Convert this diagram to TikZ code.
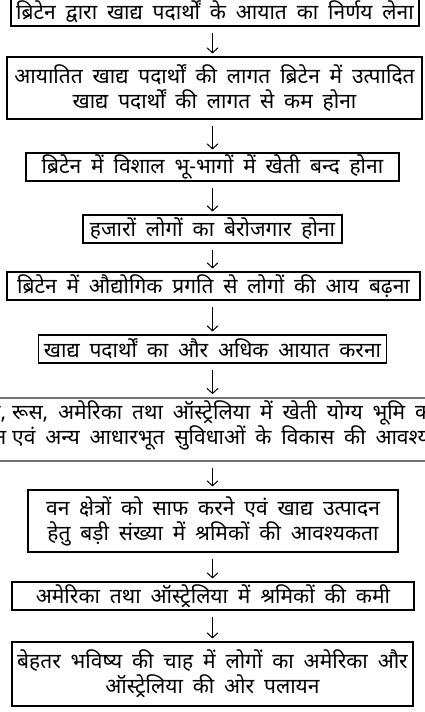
\documentclass[tikz,border=0pt]{standalone}
\usepackage{fontspec}
\newfontfamily\deva[Script=Devanagari,WordSpace=1.8]{Noto Sans}
\usetikzlibrary{arrows.meta,calc}
\begin{document}
\begin{tikzpicture}[x=1pt,y=-1pt,
  txt/.style={font=\deva\fontsize{21}{25}\selectfont},
  box/.style={draw=black, line width=1.1pt, inner sep=0pt, align=center, txt},
  graybox/.style={draw=black!55, line width=1.8pt, inner sep=0pt},
  arr/.style={-{Straight Barb[length=5pt,width=11pt,line width=1pt]}, line width=1pt}]
\useasboundingbox (0,0) rectangle (425,712);
\clip (0,0) rectangle (425,712);
\coordinate (ax) at (212.5,0);
\node[box, minimum width=408pt, minimum height=28pt] (b1) at (215,12) {ब्रिटेन द्वारा खाद्य पदार्थों के आयात का निर्णय लेना};
\node[box, minimum width=415pt, minimum height=62pt] (b2) at (214.5,88) {आयातित खाद्य पदार्थों की लागत ब्रिटेन में उत्पादित\\खाद्य पदार्थों की लागत से कम होना};
\node[box, minimum width=373pt, minimum height=28pt] (b3) at (212.5,167) {ब्रिटेन में विशाल भू-भागों में खेती बन्द होना};
\node[box, minimum width=259pt, minimum height=28pt] (b4) at (212.5,229) {हजारों लोगों का बेरोजगार होना};
\node[box, minimum width=413pt, minimum height=28pt] (b5) at (213.5,286) {ब्रिटेन में औद्योगिक प्रगति से लोगों की आय बढ़ना};
\node[box, minimum width=348pt, minimum height=28pt] (b6) at (212.5,349) {खाद्य पदार्थों का और अधिक आयात करना};
\node[graybox, minimum width=520pt, minimum height=63pt] (b7) at (212,429.5) {};
\node[txt, anchor=base west, inner sep=0pt] (b7a) at (12,419) {\llap{पूर्वी यूरोप,\hspace{6pt}}रूस, अमेरिका तथा ऑस्ट्रेलिया में खेती योग्य भूमि का विस्तार};
\node[txt, anchor=base west, inner sep=0pt] (b7b) at (12,444) {\llap{परिवहन\hspace{6pt}}एवं अन्य आधारभूत सुविधाओं के विकास की आवश्यकता};
\node[box, minimum width=370pt, minimum height=62pt] (b8) at (213,521) {वन क्षेत्रों को साफ करने एवं खाद्य उत्पादन\\हेतु बड़ी संख्या में श्रमिकों की आवश्यकता};
\node[box, minimum width=402pt, minimum height=28pt] (b9) at (213,596) {अमेरिका तथा ऑस्ट्रेलिया में श्रमिकों की कमी};
\node[box, minimum width=401pt, minimum height=64pt] (b10) at (212.5,674) {बेहतर भविष्य की चाह में लोगों का अमेरिका और\\ऑस्ट्रेलिया की ओर पलायन};
\foreach \a/\b in {b1/b2,b2/b3,b3/b4,b4/b5,b5/b6,b6/b7,b7/b8,b8/b9,b9/b10}
  \draw[arr] ($(\a.south -| ax)+(0,-6pt)$) -- ($(\b.north -| ax)+(0,3pt)$);
\end{tikzpicture}
\end{document}
